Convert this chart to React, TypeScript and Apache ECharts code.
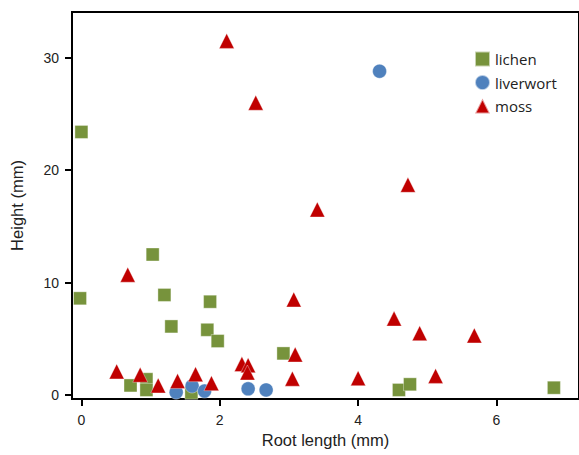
import React, { useEffect, useRef } from "react";
import * as echarts from "echarts";

const lichenX = [0.0, -0.02, 1.03, 1.2, 1.86, 1.3, 1.82, 1.97, 0.71, 0.94, 0.94, 1.59, 2.92, 4.59, 4.75, 6.83];
const lichenY = [23.4, 8.6, 12.5, 8.9, 8.3, 6.1, 5.8, 4.8, 0.85, 1.4, 0.45, 0.2, 3.7, 0.45, 0.95, 0.65];

const liverwortX = [4.31, 1.37, 1.6, 1.78, 2.41, 2.67];
const liverwortY = [28.8, 0.25, 0.8, 0.35, 0.55, 0.45];

const mossX = [2.1, 2.52, 4.72, 3.41, 0.67, 3.07, 4.52, 4.89, 5.68, 3.09, 2.32, 2.41, 2.4, 0.51, 0.85, 1.65, 1.39, 1.11, 1.88, 3.05, 4.0, 5.12];
const mossY = [31.5, 26.0, 18.7, 16.5, 10.7, 8.5, 6.8, 5.5, 5.3, 3.6, 2.75, 2.65, 2.0, 2.1, 1.8, 1.85, 1.25, 0.85, 1.05, 1.45, 1.5, 1.7];

const xTicks = [0, 2, 4, 6];
const yTicks = [0, 10, 20, 30];

const zip = (xs: number[], ys: number[]) => xs.map((x, i) => [x, ys[i]]);

export default function App() {
  const ref = useRef<HTMLDivElement>(null);
  useEffect(() => {
    document.body.style.margin = "0";
    if (!ref.current) return;
    const chart = echarts.init(ref.current, null, { renderer: "svg" });
    const axisFont = "'Liberation Sans', Arial, sans-serif";
    chart.setOption({
      animation: false,
      grid: {
        left: 71,
        right: -5,
        top: 12,
        bottom: 56,
        show: true,
        borderColor: "#000",
        borderWidth: 2,
      },
      legend: {
        orient: "vertical",
        left: 469,
        top: 45.5,
        itemWidth: 15,
        itemHeight: 15,
        itemGap: 6.5,
        textStyle: { fontFamily: "Open Sans", fontSize: 15, color: "#222", padding: [0, 0, 0, 0] },
        data: [
          { name: "lichen", icon: "rect" },
          { name: "liverwort", icon: "circle" },
          { name: "moss", icon: "triangle" },
        ],
      },
      xAxis: {
        type: "value",
        min: -0.136,
        max: 7.193,
        name: "Root length (mm)",
        nameLocation: "middle",
        nameGap: 30,
        nameTextStyle: { fontFamily: axisFont, fontSize: 16.5, color: "#222" },
        axisLine: { show: true, onZero: false, lineStyle: { color: "#000", width: 2 } },
        axisTick: { show: true, inside: false, length: 7, lineStyle: { color: "#000", width: 2 }, customValues: xTicks },
        axisLabel: { fontFamily: axisFont, fontSize: 14, color: "#222", margin: 14, customValues: xTicks },
        splitLine: { show: false },
      },
      yAxis: {
        type: "value",
        min: -0.356,
        max: 34.07,
        name: "Height (mm)",
        nameLocation: "middle",
        nameGap: 47,
        nameTextStyle: { fontFamily: axisFont, fontSize: 16.5, color: "#222" },
        axisLine: { show: true, onZero: false, lineStyle: { color: "#000", width: 2 } },
        axisTick: { show: true, inside: false, length: 7, lineStyle: { color: "#000", width: 2 }, customValues: yTicks },
        axisLabel: { fontFamily: axisFont, fontSize: 14, color: "#222", margin: 13, customValues: yTicks },
        splitLine: { show: false },
      },
      series: [
        {
          name: "lichen",
          type: "scatter",
          symbol: "rect",
          symbolSize: 13,
          itemStyle: { color: "#77933C", opacity: 1, borderColor: "rgba(255,255,255,0.6)", borderWidth: 0.6 },
          data: zip(lichenX, lichenY),
        },
        {
          name: "liverwort",
          type: "scatter",
          symbol: "circle",
          symbolSize: 14,
          itemStyle: { color: "#4F81BD", opacity: 1, borderColor: "rgba(255,255,255,0.6)", borderWidth: 0.6 },
          data: zip(liverwortX, liverwortY),
        },
        {
          name: "moss",
          type: "scatter",
          symbol: "triangle",
          symbolSize: 15,
          itemStyle: { color: "#C00000", opacity: 1, borderColor: "rgba(255,255,255,0.6)", borderWidth: 0.6 },
          data: zip(mossX, mossY),
        },
      ],
    });
    return () => chart.dispose();
  }, []);
  return <div ref={ref} style={{ width: 579, height: 455 }} />;
}
